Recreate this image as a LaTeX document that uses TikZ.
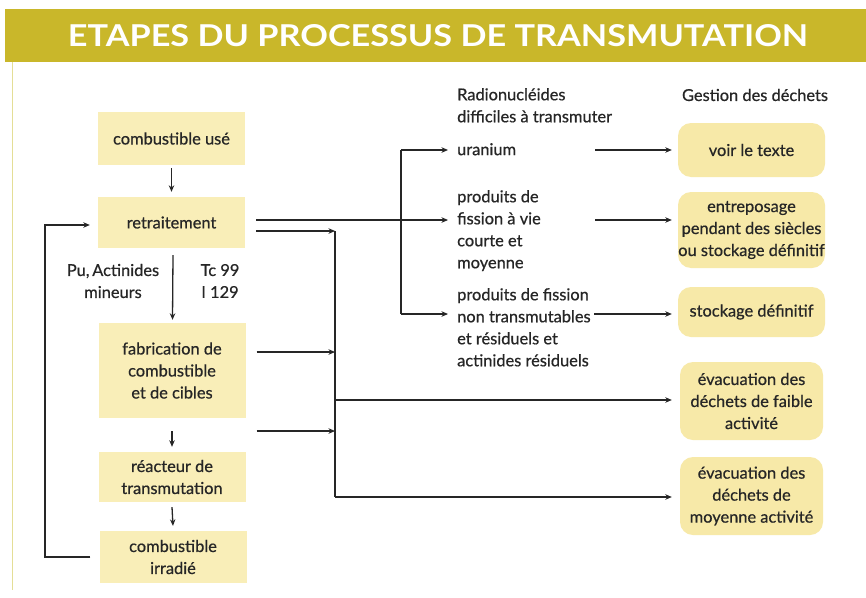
\documentclass[tikz,border=0pt]{standalone}
\usepackage{fontspec}
\setmainfont{Lato}[RawFeature={embolden=0.6}]
\newfontfamily\titlefont{Lato}
\usetikzlibrary{arrows.meta}
\definecolor{barc}{RGB}{201,183,42}
\definecolor{boxc}{RGB}{249,238,184}
\definecolor{rboxc}{RGB}{247,233,168}
\definecolor{ink}{RGB}{38,38,38}
\definecolor{edgec}{RGB}{228,222,150}
\tikzset{
  txt/.style={font=\fontsize{16.4}{22}\selectfont, text=ink, inner sep=0pt},
  sqbox/.style={txt, fill=boxc, minimum width=147pt, align=center},
  rbox/.style={txt, fill=rboxc, minimum width=147pt, align=center, rounded corners=13pt},
  lbl/.style={txt, align=left, anchor=north west},
  conn/.style={draw=ink, line width=1.3pt},
  arr/.style={conn, -{Stealth[length=6.5pt,width=5.5pt]}},
}
\begin{document}
\begin{tikzpicture}[x=1pt,y=-1pt]
\useasboundingbox (0,0) rectangle (866,597);
\fill[white] (0,0) rectangle (866,597);
% frame
\draw[edgec, line width=1pt] (12,62) -- (12,590);
\fill[barc] (5,9) rectangle (866,62);
\node[text=white, inner sep=0pt] (title) at (438,36)
  {\resizebox{740pt}{22pt}{\titlefont\bfseries ETAPES DU PROCESSUS DE TRANSMUTATION}};

% left column
\node[sqbox, minimum height=53pt] (cu) at (171.5,138.5) {combustible usé};
\node[sqbox, minimum height=51pt] (ret) at (171.5,222.5) {retraitement};
\node[sqbox, minimum height=95pt] (fab) at (172,370.5) {fabrication de\\combustible\\et de cibles};
\node[sqbox, minimum height=50pt] (rea) at (172,477) {réacteur de\\transmutation};
\node[sqbox, minimum height=52pt] (irr) at (173,557) {combustible\\irradié};
\node[txt, align=center] (pu) at (113,281) {Pu,\,Actinides\\mineurs};
\node[txt, align=center] (tc) at (220,281) {Tc 99\\I 129};

\draw[arr] ([yshift=-3pt]cu.south) -- ([yshift=5pt]ret.north);
\draw[arr] ([xshift=1.5pt,yshift=-7pt]ret.south) -- ([xshift=0.5pt,yshift=3pt]fab.north);
\draw[arr] ([yshift=-13pt]fab.south) -- ([yshift=5pt]rea.north);
\draw[arr] ([yshift=-5pt]rea.south) -- ([yshift=5pt]irr.north);

% loop back
\coordinate (lpA) at ([xshift=-9pt]irr.west);
\coordinate (lpB) at ([xshift=-8pt]ret.west);
\draw[arr] (lpA) -- (45,557) -- (45,225) -- (lpB |- 0,225);

% middle bus
\coordinate (bus1) at (335,231);
\coordinate (bus2) at (335,497);
\draw[conn] (bus1) -- (bus2);
\draw[arr] ([xshift=11pt]ret.east |- 0,231) -- (bus1);
\draw[arr] ([xshift=11pt]fab.east |- 0,352) -- (bus1 |- 0,352);
\draw[arr] ([xshift=11pt]fab.east |- 0,431) -- (bus1 |- 0,431);

% right labels
\node[lbl] (rad) at (457,88) {Radionucléides\\difficiles à transmuter};
\node[lbl] (ura) at (457,143) {uranium};
\node[lbl] (fis) at (457,190) {produits de\\fission à vie\\courte et\\moyenne};
\node[lbl] (nft) at (457,288) {produits de fission\\non transmutables\\et résiduels et\\actinides résiduels};
\node[txt] (gest) at (755,95) {Gestion des déchets};

% right boxes
\node[rbox, minimum height=54pt] (voir) at (751.5,150) {voir le texte};
\node[rbox, minimum height=76pt] (ent) at (751.5,230) {entreposage\\pendant des siècles\\ou stockage définitif};
\node[rbox, minimum height=50pt] (sto) at (751.5,312) {stockage définitif};
\node[rbox, minimum width=143pt, minimum height=78pt] (fai) at (751.5,401) {évacuation des\\déchets de faible\\activité};
\node[rbox, minimum width=143pt, minimum height=78pt] (moy) at (751.5,496) {évacuation des\\déchets de\\moyenne activité};

% upper bus
\coordinate (ub1) at (401,150);
\coordinate (ub2) at (401,314);
\coordinate (uraIn) at (448,150);
\coordinate (fisIn) at (448,220);
\coordinate (nftIn) at (448,314);
\draw[conn] (ub1) -- (ub2);
\draw[arr] (ub1) -- (uraIn);
\draw[arr] (ub2) -- (nftIn);
\draw[arr] ([xshift=11pt]ret.east |- 0,220) -- (fisIn);

% to waste management
\draw[arr] (595,150) -- ([xshift=-6pt]voir.west);
\draw[arr] (595,220) -- ([xshift=-6pt]ent.west |- 0,220);
\draw[arr] (594,314) -- ([xshift=-6pt]sto.west |- 0,314);
\draw[arr] (bus1 |- 0,400) -- ([xshift=-8pt]fai.west |- 0,400);
\draw[arr] (bus2) -- ([xshift=-8pt]moy.west |- 0,497);
\end{tikzpicture}
\end{document}
